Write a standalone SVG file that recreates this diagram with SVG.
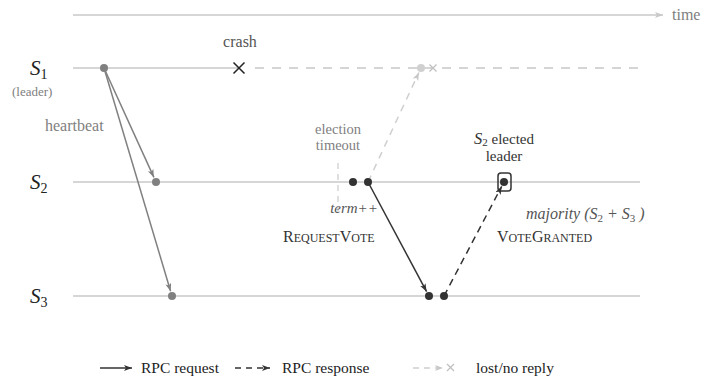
<svg xmlns="http://www.w3.org/2000/svg" width="717" height="381" viewBox="0 0 717 381" font-family="'Liberation Serif', 'Times New Roman', 'DejaVu Serif', serif">
<style>
text{font-family:'Liberation Serif','Times New Roman','DejaVu Serif',serif}
.lane{stroke:#c8c8c8;stroke-width:1.3;fill:none}
.lbl{font-size:21px;font-style:italic;fill:#222}
.sub{font-size:14px;font-style:normal}
.t{font-size:16px}
.lg{font-size:15.5px}
.g{fill:#808080}
.d{fill:#333}
.m{fill:#555}
.k{fill:#222}
.it{font-style:italic}
</style>
<defs>
<marker id="ag" markerUnits="userSpaceOnUse" markerWidth="10" markerHeight="8" refX="8" refY="3" orient="auto"><path d="M0,0 L8,3 L0,6 L2,3 z" fill="#808080"/></marker>
<marker id="ad" markerUnits="userSpaceOnUse" markerWidth="10" markerHeight="8" refX="8" refY="3" orient="auto"><path d="M0,0 L8,3 L0,6 L2,3 z" fill="#333"/></marker>
<marker id="al" markerUnits="userSpaceOnUse" markerWidth="10" markerHeight="8" refX="8" refY="3" orient="auto"><path d="M0,0 L8,3 L0,6 L2,3 z" fill="#c8c8c8"/></marker>
</defs>

<g id="time-axis">
<line x1="73" y1="15" x2="663" y2="15" class="lane" marker-end="url(#al)"/>
<text x="672" y="20" class="t g">time</text>
</g>

<g id="lanes">
<line x1="73" y1="68" x2="238" y2="68" class="lane"/>
<line x1="255" y1="68" x2="640" y2="68" class="lane" stroke-dasharray="9,8"/>
<line x1="73" y1="182" x2="640" y2="182" class="lane"/>
<line x1="73" y1="296" x2="640" y2="296" class="lane"/>
</g>

<g id="S1">
<text x="30" y="75" class="lbl">S<tspan class="sub" dy="4">1</tspan></text>
<text x="12" y="96" font-size="13" class="g">(leader)</text>
</g>
<g id="S2"><text x="30" y="189" class="lbl">S<tspan class="sub" dy="4">2</tspan></text></g>
<g id="S3"><text x="30" y="303" class="lbl">S<tspan class="sub" dy="4">3</tspan></text></g>

<g id="connectors">
<line x1="104" y1="68" x2="153.9" y2="177.4" stroke="#808080" stroke-width="1.5" marker-end="url(#ag)"/>
<line x1="104" y1="68" x2="170.6" y2="291.2" stroke="#808080" stroke-width="1.5" marker-end="url(#ag)"/>
<line x1="368" y1="182" x2="418.9" y2="72.5" stroke="#cfcfcf" stroke-width="1.5" stroke-dasharray="7,6" marker-end="url(#al)"/>
<line x1="368" y1="182" x2="426.6" y2="291.6" stroke="#333" stroke-width="1.5" marker-end="url(#ad)"/>
<line x1="444" y1="296" x2="501.7" y2="186.4" stroke="#333" stroke-width="1.5" stroke-dasharray="7,5" marker-end="url(#ad)"/>
<line x1="338" y1="163" x2="338" y2="216" stroke="#cfcfcf" stroke-width="1.3" stroke-dasharray="6,5"/>
</g>

<g id="heartbeat">
<circle cx="104" cy="68" r="4" fill="#808080"/>
<circle cx="156" cy="182" r="4" fill="#808080"/>
<circle cx="172" cy="296" r="4" fill="#808080"/>
<text x="45" y="131" class="t g">heartbeat</text>
</g>

<g id="crash">
<path d="M233.5,62.5 L244.5,73.5 M244.5,62.5 L233.5,73.5" stroke="#222" stroke-width="1.5"/>
<text x="240" y="47" class="t m" text-anchor="middle">crash</text>
</g>

<g id="lost">
<circle cx="421" cy="68" r="4" fill="#d0d0d0"/>
<path d="M429.5,64.5 L436.5,71.5 M436.5,64.5 L429.5,71.5" stroke="#c0c0c0" stroke-width="1.3"/>
</g>

<g id="election-timeout">
<text x="338" y="134" font-size="14.5" class="g" text-anchor="middle">election</text>
<text x="338" y="150" font-size="14.5" class="g" text-anchor="middle">timeout</text>
</g>

<g id="candidate">
<circle cx="353" cy="182" r="4" fill="#333"/>
<circle cx="368" cy="182" r="4" fill="#333"/>
<text x="354" y="213" font-size="15" class="m it" text-anchor="middle">term++</text>
<text x="283" y="242" class="t d">R<tspan font-size="12">EQUEST</tspan>V<tspan font-size="12">OTE</tspan></text>
</g>

<g id="voter">
<circle cx="429" cy="296" r="4" fill="#333"/>
<circle cx="444" cy="296" r="4" fill="#333"/>
</g>

<g id="elected">
<rect x="498" y="173" width="13" height="18" rx="3" fill="none" stroke="#333" stroke-width="1.5"/>
<circle cx="504" cy="182" r="4" fill="#333"/>
<text x="504" y="144" font-size="15" class="d" text-anchor="middle"><tspan font-style="italic" font-size="16.5">S</tspan><tspan font-size="11" dy="2">2</tspan><tspan dy="-2"> elected</tspan></text>
<text x="504" y="161" font-size="15" class="d" text-anchor="middle">leader</text>
</g>

<g id="vote-granted">
<text x="526" y="219" class="t m it">majority (S<tspan font-size="11" dy="3" font-style="normal">2</tspan><tspan dy="-3"> + S</tspan><tspan font-size="11" dy="3" font-style="normal">3</tspan><tspan dy="-3"> )</tspan></text>
<text x="497" y="242" class="t d">V<tspan font-size="12">OTE</tspan>G<tspan font-size="12">RANTED</tspan></text>
</g>

<g id="legend">
<line x1="100" y1="368" x2="132" y2="368" stroke="#333" stroke-width="1.5" marker-end="url(#ad)"/>
<text x="141" y="373" class="lg k">RPC request</text>
<line x1="235" y1="368" x2="270" y2="368" stroke="#333" stroke-width="1.5" stroke-dasharray="6,5" marker-end="url(#ad)"/>
<text x="282" y="373" class="lg k">RPC response</text>
<line x1="413" y1="368" x2="443" y2="368" stroke="#cfcfcf" stroke-width="1.3" stroke-dasharray="6,5" marker-end="url(#al)"/>
<path d="M447,364 L454,371 M454,364 L447,371" stroke="#c0c0c0" stroke-width="1.3"/>
<text x="476" y="373" class="lg k">lost/no reply</text>
</g>
</svg>
